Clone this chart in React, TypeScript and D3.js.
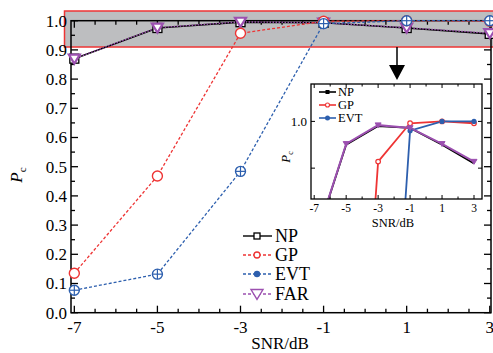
import * as d3 from 'd3'

// SNR points (dB)
const snr = [-7, -5, -3, -1, 1, 3]
const npVals = [0.87, 0.975, 0.995, 0.993, 0.975, 0.955]
const gpVals = [0.135, 0.468, 0.957, 0.998, 1.0, 0.998]
const evtVals = [0.077, 0.132, 0.484, 0.99, 1.0, 1.0]
const farVals = [0.87, 0.976, 0.996, 0.993, 0.976, 0.957]

const xTickLabels = [-7, -5, -3, -1, 1, 3]
const yTickLabels = [0, 0.1, 0.2, 0.3, 0.4, 0.5, 0.6, 0.7, 0.8, 0.9, 1.0]
const insetYTickLabels = [1.0]

const RED = '#ee3434'
const BLUE = '#2d5fae'
const PURPLE = '#9c50b0'
const SERIF = '"Liberation Serif", "Times New Roman", serif'

const W = 493
const H = 353

function tri(cx: number, cy: number, r: number) {
  return `M${cx - r},${cy - r * 0.75} L${cx + r},${cy - r * 0.75} L${cx},${cy + r * 0.9} Z`
}

export default function App() {
  // main plot
  const x = d3.scaleLinear().domain([-7.08, 3.03]).range([71, 491])
  const y = d3.scaleLinear().domain([0, 1]).range([312.7, 20.7])
  const [x0, x1] = x.range()
  const [y0, y1] = y.range()

  const line = (vals: number[]) =>
    d3.line<number>().x((_, i) => x(snr[i])).y(d => y(d))(vals) as string

  const xTicks = d3.range(-7, 3.01, 0.5)
  const yTicks = d3.range(0, 1.001, 0.05)

  // inset
  const ix = d3.scaleLinear().domain([-7.2, 3.5]).range([311, 482])
  const iy = d3.scaleLinear().domain([0.917, 1.04]).range([199, 84])
  const [ix0, ix1] = ix.range()
  const [iy0, iy1] = iy.range()
  const iline = (vals: number[]) =>
    d3.line<number>().x((_, i) => ix(snr[i])).y(d => iy(d))(vals) as string
  const ixTicks = d3.range(-7, 3.01, 1)
  const iyTicks = [0.95, 1.0]

  const legend = [
    { name: 'NP', color: '#000', dash: '', mark: 'sq' },
    { name: 'GP', color: RED, dash: '3,2', mark: 'circ' },
    { name: 'EVT', color: BLUE, dash: '3,2', mark: 'dot' },
    { name: 'FAR', color: PURPLE, dash: '3,2', mark: 'tri' },
  ]
  const legendY = [236, 255, 274, 294]

  return (
    <svg width={W} height={H} style={{ position: 'absolute', left: 0, top: 0, background: '#fff' }} fontFamily={SERIF}>
      <defs>
        <clipPath id="insetClip">
          <rect x={ix0} y={iy1} width={ix1 - ix0} height={iy0 - iy1} />
        </clipPath>
      </defs>

      {/* highlighted band */}
      <rect x={64.5} y={11} width={435} height={36} fill="#bdbec0" stroke={RED} strokeWidth={1.5} />

      {/* main axes frame */}
      <rect x={x0} y={y1} width={x1 - x0} height={y0 - y1} fill="none" stroke="#000" strokeWidth={1.5} />
      {xTicks.map((t, i) => {
        const major = xTickLabels.includes(t)
        const len = major ? 7 : 4
        return (
          <g key={'xt' + i}>
            <line x1={x(t)} x2={x(t)} y1={y0} y2={y0 - len} stroke="#000" strokeWidth={1.3} />
            <line x1={x(t)} x2={x(t)} y1={y1} y2={y1 + len} stroke="#000" strokeWidth={1.3} />
          </g>
        )
      })}
      {yTicks.map((t, i) => {
        const len = i % 2 === 0 ? 7 : 4
        return (
          <g key={'yt' + i}>
            <line x1={x0} x2={x0 + len} y1={y(t)} y2={y(t)} stroke="#000" strokeWidth={1.3} />
            <line x1={x1} x2={x1 - len} y1={y(t)} y2={y(t)} stroke="#000" strokeWidth={1.3} />
          </g>
        )
      })}
      {xTickLabels.map(t => (
        <text key={'xl' + t} x={x(t)} y={333} fontSize={17} textAnchor="middle">{t}</text>
      ))}
      {yTickLabels.map(t => (
        <text key={'yl' + t} x={67} y={y(t)} dy="0.35em" fontSize={17} textAnchor="end">{t.toFixed(1)}</text>
      ))}
      <text x={280} y={349} fontSize={17} textAnchor="middle">SNR/dB</text>
      <text transform="translate(22,175) rotate(-90)" fontSize={17} textAnchor="middle">
        <tspan fontStyle="italic">P</tspan>
        <tspan fontSize={11} dy={4}>c</tspan>
      </text>

      {/* series */}
      <path d={line(npVals)} fill="none" stroke="#000" strokeWidth={1.6} />
      <path d={line(farVals)} fill="none" stroke={PURPLE} strokeWidth={1.4} strokeDasharray="1.5,1.5" />
      <path d={line(gpVals)} fill="none" stroke={RED} strokeWidth={1.3} strokeDasharray="3,2" />
      <path d={line(evtVals)} fill="none" stroke={BLUE} strokeWidth={1.3} strokeDasharray="3,2" />

      {npVals.map((v, i) => (
        <rect key={'np' + i} x={x(snr[i]) - 4.5} y={y(v) - 4.5} width={9} height={9} fill="#fff" stroke="#000" strokeWidth={1.3} />
      ))}
      {farVals.map((v, i) => (
        <path key={'far' + i} d={tri(x(snr[i]), y(v), 5.5)} fill="#fff" stroke={PURPLE} strokeWidth={2.2} />
      ))}
      {gpVals.map((v, i) => (
        <circle key={'gp' + i} cx={x(snr[i])} cy={y(v)} r={5} fill="#fff" stroke={RED} strokeWidth={1.4} />
      ))}
      {evtVals.map((v, i) => (
        <g key={'evt' + i}>
          <circle cx={x(snr[i])} cy={y(v)} r={5} fill="#fff" stroke={BLUE} strokeWidth={1.4} />
          <line x1={x(snr[i]) - 5} x2={x(snr[i]) + 5} y1={y(v)} y2={y(v)} stroke={BLUE} strokeWidth={1.2} />
          <line x1={x(snr[i])} x2={x(snr[i])} y1={y(v) - 5} y2={y(v) + 5} stroke={BLUE} strokeWidth={1.2} />
        </g>
      ))}

      {/* main legend */}
      {legend.map((l, i) => {
        const ly = legendY[i]
        const cx = 257
        return (
          <g key={'lg' + l.name}>
            <line x1={243} x2={272} y1={ly} y2={ly} stroke={l.color} strokeWidth={1.4} strokeDasharray={l.dash} />
            {l.mark === 'sq' && <rect x={cx - 3} y={ly - 3} width={6} height={6} fill="#fff" stroke="#000" strokeWidth={1.3} />}
            {l.mark === 'circ' && <circle cx={cx} cy={ly} r={3} fill="#fff" stroke={RED} strokeWidth={1.3} />}
            {l.mark === 'dot' && <circle cx={cx} cy={ly} r={3.2} fill={BLUE} />}
            {l.mark === 'tri' && <path d={tri(cx, ly, 6)} fill="#fff" stroke={PURPLE} strokeWidth={1.4} />}
            <text x={275} y={ly} dy="0.36em" fontSize={18}>{l.name}</text>
          </g>
        )
      })}

      {/* arrow */}
      <line x1={397} x2={397} y1={47} y2={67} stroke="#000" strokeWidth={1.5} />
      <path d="M389,65 L405,65 L397,80 Z" fill="#000" />

      {/* inset */}
      <rect x={ix0} y={iy1} width={ix1 - ix0} height={iy0 - iy1} fill="#fff" />
      <g clipPath="url(#insetClip)">
        <path d={iline(npVals)} fill="none" stroke="#000" strokeWidth={1.8} />
        <path d={iline(gpVals)} fill="none" stroke={RED} strokeWidth={1.8} />
        <path d={iline(evtVals)} fill="none" stroke={BLUE} strokeWidth={1.8} />
        <path d={iline(farVals)} fill="none" stroke={PURPLE} strokeWidth={2} />
        {gpVals.map((v, i) => (
          <circle key={'igp' + i} cx={ix(snr[i])} cy={iy(v)} r={2.3} fill="#fff" stroke={RED} strokeWidth={1.2} />
        ))}
        {evtVals.map((v, i) => (
          <circle key={'ievt' + i} cx={ix(snr[i])} cy={iy(v)} r={2.6} fill={BLUE} />
        ))}
        {farVals.map((v, i) => (
          <path key={'ifar' + i} d={tri(ix(snr[i]), iy(v), 3)} fill={PURPLE} stroke={PURPLE} strokeWidth={1} />
        ))}
      </g>
      <rect x={ix0} y={iy1} width={ix1 - ix0} height={iy0 - iy1} fill="none" stroke="#000" strokeWidth={1.3} />
      {ixTicks.map((t, i) => {
        const major = xTickLabels.includes(t)
        const len = major ? 4 : 2.5
        return (
          <g key={'ixt' + i}>
            <line x1={ix(t)} x2={ix(t)} y1={iy0} y2={iy0 - len} stroke="#000" strokeWidth={1} />
            <line x1={ix(t)} x2={ix(t)} y1={iy1} y2={iy1 + len} stroke="#000" strokeWidth={1} />
          </g>
        )
      })}
      {iyTicks.map((t, i) => (
        <g key={'iyt' + i}>
          <line x1={ix0} x2={ix0 + 4} y1={iy(t)} y2={iy(t)} stroke="#000" strokeWidth={1} />
          <line x1={ix1} x2={ix1 - 4} y1={iy(t)} y2={iy(t)} stroke="#000" strokeWidth={1} />
        </g>
      ))}
      {xTickLabels.map(t => (
        <text key={'ixl' + t} x={ix(t)} y={212} fontSize={11.5} textAnchor="middle">{t}</text>
      ))}
      {insetYTickLabels.map(t => (
        <text key={'iyl' + t} x={307} y={iy(t)} dy="0.35em" fontSize={13} textAnchor="end">{t.toFixed(1)}</text>
      ))}
      <text x={393} y={227} fontSize={12.5} textAnchor="middle">SNR/dB</text>
      <text transform="translate(290,157) rotate(-90)" fontSize={13} textAnchor="middle">
        <tspan fontStyle="italic">P</tspan>
        <tspan fontSize={8} dy={3}>c</tspan>
      </text>

      {/* inset legend */}
      {legend.slice(0, 3).map((l, i) => {
        const ly = [92, 105, 118][i]
        return (
          <g key={'ilg' + l.name}>
            <line x1={319} x2={336} y1={ly} y2={ly} stroke={l.color} strokeWidth={1.6} />
            {l.mark === 'sq' && <rect x={325.5} y={ly - 2} width={4} height={4} fill="#000" />}
            {l.mark === 'circ' && <circle cx={327.5} cy={ly} r={2} fill="#fff" stroke={RED} strokeWidth={1.1} />}
            {l.mark === 'dot' && <circle cx={327.5} cy={ly} r={2.5} fill={BLUE} />}
            <text x={338} y={ly} dy="0.35em" fontSize={12.5}>{l.name}</text>
          </g>
        )
      })}
    </svg>
  )
}
